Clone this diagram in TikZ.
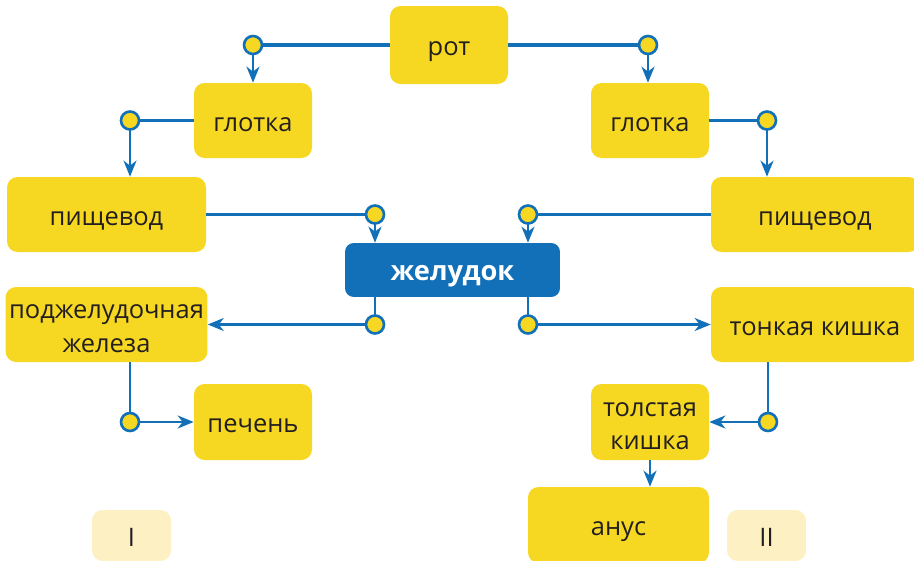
\documentclass[tikz,border=0pt]{standalone}
\usepackage{fontspec}
\setmainfont{Open Sans}
\usepackage{tikz}
\usetikzlibrary{arrows.meta,positioning,calc}
\definecolor{organYellow}{HTML}{F6D823}
\definecolor{organBlue}{HTML}{1170B8}
\definecolor{organPale}{HTML}{FDF1C4}
\definecolor{organText}{HTML}{231F20}
\newcommand{\boxtext}[1]{\raisebox{-2.4pt}[\height][\depth]{\begin{tabular}{@{}c@{}}#1\end{tabular}}}

\begin{document}
\begin{tikzpicture}[x=0.02cm, y=-0.02cm,
    every node/.style={font=\fontsize{14.5}{19}\selectfont, text=organText},
    organ/.style={fill=organYellow, rounded corners=6pt, inner sep=2pt},
    mainorgan/.style={fill=organBlue, rounded corners=5pt, text=white, font=\fontsize{15.5}{19}\selectfont\bfseries},
    partlabel/.style={fill=organPale, rounded corners=6pt, minimum width=1.58cm, minimum height=1.02cm},
    link/.style={draw=organBlue, line width=1.5pt},
    flow/.style={draw=organBlue, line width=1.4pt, -{Stealth[length=3.2mm, width=2.6mm, inset=1mm]}},
    dot/.style={circle, draw=organBlue, fill=organYellow, line width=1.5pt, minimum size=0.36cm, inner sep=0pt}
]
    \useasboundingbox (0,0) rectangle (914,561);

    % boxes
    \foreach \name/\x/\y/\w/\h/\txt in {
        rot/449/45/118/78/{рот},
        glL/253/120.5/118/75/{глотка},
        glR/650/120.5/118/75/{глотка},
        pvL/106.5/214.5/199/75/{пищевод},
        pvR/815/214.5/208/75/{пищевод},
        pzh/106.5/324.5/199/75/{поджелудочная\\железа},
        tk/815/324.5/208/75/{тонкая кишка},
        pech/253/422/118/76/{печень},
        tlk/650/422/118/76/{толстая\\кишка},
        anus/618.5/525/181/76/{анус}
    }{
        \node[organ, minimum width=\w*0.02cm, minimum height=\h*0.02cm] (\name) at (\x,\y) {\boxtext{\txt}};
    }
    \node[mainorgan, minimum width=4.3cm, minimum height=1.08cm] (zhel) at (452.5,270) {\boxtext{желудок}};
    \node[partlabel] (partI) at (131.5,535.5) {\boxtext{I}};
    \node[partlabel] (partII) at (766.5,535.5) {\boxtext{II}};

    % junction points
    \coordinate (d1) at (253,45);
    \coordinate (d2) at (648,45);
    \coordinate (d3) at (130,120.5);
    \coordinate (d4) at (767,120.5);
    \coordinate (d5) at (375,214.5);
    \coordinate (d6) at (528,214.5);
    \coordinate (d7) at (375,324.5);
    \coordinate (d8) at (528,324.5);
    \coordinate (d9) at (130,422);
    \coordinate (d10) at (768,422);

    \draw[link, line width=2pt] (rot.west) -- (d1);
    \draw[flow] (d1) -- (d1 |- glL.north);
    \draw[link, line width=2pt] (rot.east) -- (d2);
    \draw[flow] (d2) -- (d2 |- glR.north);
    \draw[link] (glL.west) -- (d3);
    \draw[flow] (d3) -- (d3 |- pvL.north);
    \draw[link, line width=2pt] (glR.east) -- (d4);
    \draw[flow] (d4) -- (d4 |- pvR.north);
    \draw[link, line width=2pt] (pvL.east) -- (d5);
    \draw[flow] (d5) -- (d5 |- zhel.north);
    \draw[link] (pvR.west) -- (d6);
    \draw[flow] (d6) -- (d6 |- zhel.north);
    \draw[link] (d7 |- zhel.south) -- (d7);
    \draw[flow] (d7) -- (d7 -| pzh.east);
    \draw[link] (d8 |- zhel.south) -- (d8);
    \draw[flow] (d8) -- (d8 -| tk.west);
    \draw[link] (d9 |- pzh.south) -- (d9);
    \draw[flow] (d9) -- (d9 -| pech.west);
    \draw[link] (d10 |- tk.south) -- (d10);
    \draw[flow] (d10) -- (d10 -| tlk.east);
    \draw[flow] (tlk.south) -- (tlk.south |- anus.north);

    \foreach \d in {1,...,10}
        \node[dot] (dot\d) at (d\d) {};
\end{tikzpicture}
\end{document}
